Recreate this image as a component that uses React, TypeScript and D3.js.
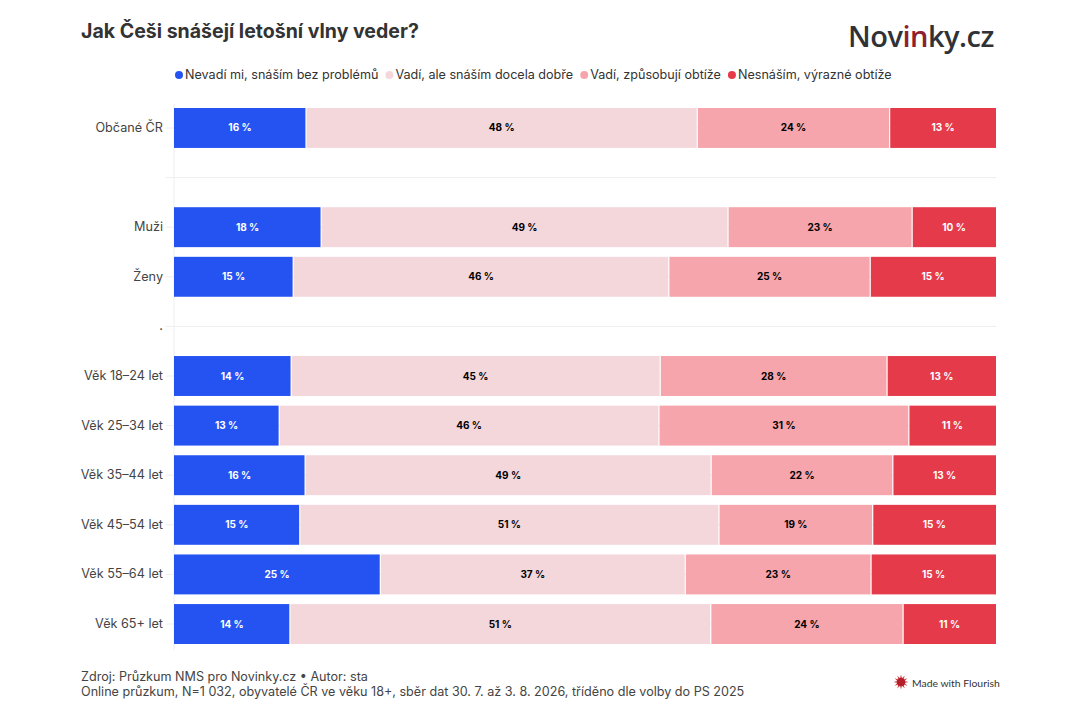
import { useEffect, useRef } from 'react';
import * as d3 from 'd3';

const categories = ['Občané ČR', '', 'Muži', 'Ženy', '.', 'Věk 18–24 let', 'Věk 25–34 let', 'Věk 35–44 let', 'Věk 45–54 let', 'Věk 55–64 let', 'Věk 65+ let'];
const seriesNames = ['Nevadí mi, snáším bez problémů', 'Vadí, ale snáším docela dobře', 'Vadí, způsobují obtíže', 'Nesnáším, výrazné obtíže'];
const seriesColors = ['#2553f2', '#f4d7db', '#f5a5ab', '#e53a4a'];
const labelColors = ['#ffffff', '#000000', '#000000', '#ffffff'];

// bar lengths as measured, blank rows stay null
const noBother = [16.06, null, 17.9, 14.5, null, 14.25, 12.8, 15.95, 15.3, 25.1, 14.1];
const okay = [47.6, null, 49.5, 45.7, null, 44.9, 46.2, 49.4, 51.0, 37.1, 51.2];
const trouble = [23.4, null, 22.4, 24.5, null, 27.6, 30.4, 22.1, 18.7, 22.6, 23.4];
const hate = [13.0, null, 10.2, 15.3, null, 13.3, 10.6, 12.6, 15.0, 15.2, 11.3];

// printed labels come from the source and don't always round from the lengths
const noBotherLabels = [16, null, 18, 15, null, 14, 13, 16, 15, 25, 14];
const okayLabels = [48, null, 49, 46, null, 45, 46, 49, 51, 37, 51];
const troubleLabels = [24, null, 23, 25, null, 28, 31, 22, 19, 23, 24];
const hateLabels = [13, null, 10, 15, null, 13, 11, 13, 15, 15, 11];

const seriesValues = [noBother, okay, trouble, hate];
const seriesLabels = [noBotherLabels, okayLabels, troubleLabels, hateLabels];

const font = 'Inter, sans-serif';

function App() {
  const svgRef = useRef<SVGSVGElement | null>(null);
  const width = 1080;
  const height = 720;
  const margin = { top: 108, right: 84, bottom: 76, left: 174 };
  const gap = 1.2;

  useEffect(() => {
    const svg = d3.select(svgRef.current);
    svg.selectAll('*').remove();

    const x = d3
      .scaleLinear()
      .domain([0, 100])
      .range([margin.left, width - margin.right])
      .clamp(true);

    const y = d3
      .scaleBand()
      .domain(categories)
      .range([margin.top, height - margin.bottom])
      .paddingInner(0.195)
      .paddingOuter(0);

    svg
      .append('text')
      .attr('x', 81)
      .attr('y', 38)
      .attr('font-family', font)
      .attr('font-size', 19.55)
      .attr('font-weight', 700)
      .attr('fill', '#333333')
      .text('Jak Češi snášejí letošní vlny veder?');

    // logo
    const logo = svg
      .append('text')
      .attr('x', 848)
      .attr('y', 47)
      .attr('font-family', '"Open Sans", sans-serif')
      .attr('font-size', 29)
      .attr('font-weight', 600)
      .attr('letter-spacing', -0.5)
      .attr('fill', '#303236');
    logo.append('tspan').text('Nov');
    logo.append('tspan').attr('fill', '#8e1f2f').text('in');
    logo.append('tspan').text('ky.cz');

    // legend, laid out from the measured text widths
    let legendX = 175;
    seriesNames.forEach((name, i) => {
      svg
        .append('circle')
        .attr('cx', legendX + 4)
        .attr('cy', 75)
        .attr('r', 4)
        .attr('fill', seriesColors[i]);
      const label = svg
        .append('text')
        .attr('x', legendX + 10)
        .attr('y', 79)
        .attr('font-family', font)
        .attr('font-size', 12.6)
        .attr('fill', '#333333')
        .text(name);
      legendX += 10 + (label.node() as SVGTextElement).getComputedTextLength() + 7;
    });

    // grid
    svg
      .append('line')
      .attr('x1', margin.left)
      .attr('x2', margin.left)
      .attr('y1', margin.top - 4)
      .attr('y2', height - margin.bottom + 6)
      .attr('stroke', '#eeeeee');

    const grid = svg
      .append<SVGGElement>('g')
      .attr('transform', `translate(${margin.left},0)`)
      .call(
        d3
          .axisLeft(y)
          .tickSize(8)
          .tickPadding(3)
      );
    grid.select('.domain').remove();
    grid.selectAll('.tick line').attr('x2', width - margin.right - margin.left).attr('x1', -8).attr('stroke', '#eeeeee');
    grid
      .selectAll('.tick text')
      .attr('font-family', font)
      .attr('font-size', 12.65)
      .attr('fill', '#444444');

    // bars
    seriesValues.forEach((values, s) => {
      const rows = categories
        .map((category, i) => ({
          category,
          value: values[i],
          label: seriesLabels[s][i],
          start: d3.sum(seriesValues.slice(0, s), (v) => v[i] as number),
        }))
        .filter((row) => row.value !== null);

      const group = svg.append('g');

      group
        .selectAll('rect')
        .data(rows)
        .enter()
        .append('rect')
        .attr('x', (row) => x(row.start) + (s > 0 ? gap / 2 : 0))
        .attr('y', (row) => y(row.category) as number)
        .attr('width', (row) => x(row.start + (row.value as number)) - x(row.start) - (s > 0 ? gap / 2 : 0) - (s < 3 ? gap / 2 : 0))
        .attr('height', y.bandwidth())
        .attr('fill', seriesColors[s]);

      group
        .selectAll('text')
        .data(rows)
        .enter()
        .append('text')
        .attr('x', (row) => x(row.start + (row.value as number) / 2))
        .attr('y', (row) => (y(row.category) as number) + y.bandwidth() / 2 + 3.5)
        .attr('text-anchor', 'middle')
        .attr('font-family', font)
        .attr('font-size', 10)
        .attr('font-weight', 700)
        .attr('fill', labelColors[s])
        .text((row) => `${row.label} %`);
    });

    // footer
    svg
      .append('text')
      .attr('x', 81)
      .attr('y', 681)
      .attr('font-family', font)
      .attr('font-size', 12.6)
      .attr('fill', '#444444')
      .text('Zdroj: Průzkum NMS pro Novinky.cz • Autor: sta');
    svg
      .append('text')
      .attr('x', 81)
      .attr('y', 696)
      .attr('font-family', font)
      .attr('font-size', 12.6)
      .attr('fill', '#444444')
      .text('Online průzkum, N=1 032, obyvatelé ČR ve věku 18+, sběr dat 30. 7. až 3. 8. 2026, tříděno dle volby do PS 2025');

    // flourish badge
    const badge = svg.append('g').attr('transform', 'translate(901,682)');
    badge.append('circle').attr('r', 4.5).attr('fill', '#b3202c');
    badge
      .selectAll('line')
      .data(d3.range(0, Math.PI * 2, Math.PI / 6))
      .enter()
      .append('line')
      .attr('x1', (a) => Math.cos(a) * 4)
      .attr('y1', (a) => Math.sin(a) * 4)
      .attr('x2', (a) => Math.cos(a) * 6.5)
      .attr('y2', (a) => Math.sin(a) * 6.5)
      .attr('stroke', '#d13a3a')
      .attr('stroke-width', 1);
    svg
      .append('text')
      .attr('x', 912)
      .attr('y', 687)
      .attr('font-family', 'Lato, sans-serif')
      .attr('font-size', 10.4)
      .attr('fill', '#333333')
      .text('Made with Flourish');
  }, []);

  return <svg ref={svgRef} width={width} height={height} style={{ position: 'absolute', left: 0, top: 0, background: '#ffffff' }} />;
}

export default App;
